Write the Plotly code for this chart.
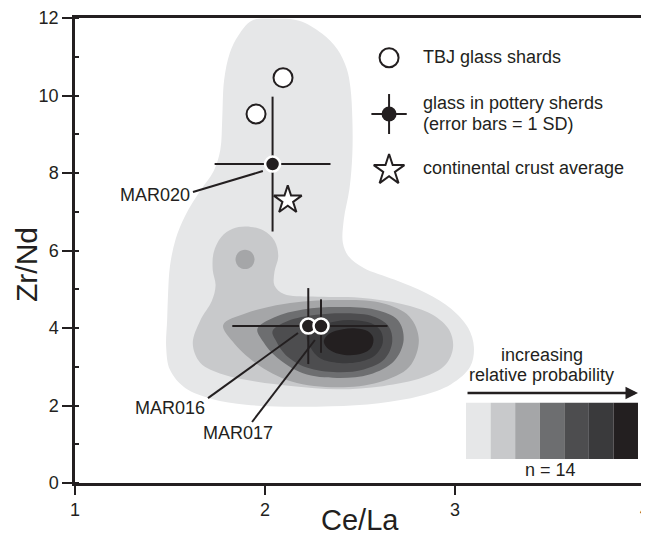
import plotly.graph_objects as go

# ---------------- data ----------------
# TBJ glass shards
tbj_x = [2.095, 1.953]
tbj_y = [10.46, 9.52]

# glass in pottery sherds (mean +/- 1 SD)
sherd_names = ["MAR020", "MAR016", "MAR017"]
sherd_x = [2.04, 2.228, 2.295]
sherd_y = [8.23, 4.05, 4.05]
sherd_xerr = [0.305, 0.40, 0.35]
sherd_yerr = [1.74, 0.98, 0.69]

# continental crust average
crust_x = [2.12]
crust_y = [7.30]

# sherd label positions (text centre) and leader-line ends
label_x = [1.42, 1.50, 1.858]
label_y = [7.43, 1.935, 1.29]
leader_x0 = [1.621, 1.70, 1.932]
leader_y0 = [7.51, 2.19, 1.574]
leader_x1 = [1.989, 2.174, 2.263]
leader_y1 = [8.05, 3.87, 3.69]

# probability-density contour outlines (n = 14), lightest to darkest
level_colors = ["#e6e7e8", "#c8c9cb", "#a5a6a8", "#6d6e70", "#4d4d4f", "#3a3a3c", "#231f20"]

lvl1_x = [2.05, 2.18, 2.30, 2.38, 2.43, 2.45, 2.46, 2.46, 2.445, 2.415, 2.41, 2.44, 2.52, 2.68,
          2.85, 2.98, 3.07, 3.10, 3.08, 2.98, 2.82, 2.60, 2.35, 2.10, 1.90, 1.72, 1.58, 1.50,
          1.48, 1.485, 1.49, 1.50, 1.53, 1.58, 1.66, 1.73, 1.765, 1.775, 1.785, 1.815, 1.86, 1.93, 2.05]
lvl1_y = [11.98, 11.93, 11.6, 11.2, 10.7, 10.2, 9.4, 8.5, 7.6, 6.8, 6.2, 5.85, 5.55, 5.25,
          4.9, 4.5, 4.0, 3.5, 3.0, 2.55, 2.25, 2.06, 1.98, 1.97, 2.02, 2.17, 2.45, 2.92,
          3.5, 4.2, 4.9, 5.6, 6.3, 6.9, 7.55, 8.05, 8.6, 9.4, 10.4, 11.1, 11.55, 11.93, 11.98]

lvl2_x = [1.90, 1.99, 2.05, 2.07, 2.05, 2.05, 2.10, 2.25, 2.50, 2.72, 2.88, 2.97, 2.99, 2.95,
          2.83, 2.62, 2.38, 2.15, 1.95, 1.78, 1.66, 1.62, 1.66, 1.72, 1.74, 1.725, 1.73, 1.77, 1.83, 1.90]
lvl2_y = [6.62, 6.52, 6.25, 5.85, 5.45, 5.10, 4.88, 4.81, 4.78, 4.62, 4.35, 3.95, 3.5, 3.05,
          2.72, 2.50, 2.42, 2.50, 2.62, 2.80, 3.10, 3.60, 4.20, 4.70, 5.10, 5.50, 5.95, 6.35, 6.56, 6.62]

lvl3a_x = [1.895, 1.93, 1.945, 1.93, 1.895, 1.86, 1.845, 1.86, 1.895]
lvl3a_y = [6.02, 5.95, 5.77, 5.59, 5.52, 5.59, 5.77, 5.95, 6.02]
lvl3_x = [1.78, 1.90, 2.10, 2.38, 2.62, 2.76, 2.81, 2.76, 2.60, 2.38, 2.14, 1.95, 1.83, 1.78]
lvl3_y = [4.08, 4.38, 4.62, 4.72, 4.64, 4.30, 3.70, 3.00, 2.60, 2.47, 2.62, 3.10, 3.65, 4.08]

lvl4_x = [1.96, 2.05, 2.20, 2.40, 2.58, 2.70, 2.73, 2.68, 2.55, 2.38, 2.20, 2.06, 1.99, 1.96]
lvl4_y = [3.98, 4.28, 4.48, 4.54, 4.47, 4.20, 3.70, 3.15, 2.80, 2.71, 2.83, 3.25, 3.65, 3.98]

lvl5_x = [2.04, 2.12, 2.27, 2.43, 2.57, 2.65, 2.67, 2.63, 2.52, 2.38, 2.22, 2.11, 2.06, 2.04]
lvl5_y = [3.92, 4.18, 4.34, 4.38, 4.30, 4.05, 3.65, 3.20, 2.93, 2.86, 2.98, 3.30, 3.65, 3.92]

lvl6_x = [2.22, 2.27, 2.37, 2.47, 2.56, 2.61, 2.62, 2.58, 2.49, 2.39, 2.29, 2.24, 2.22]
lvl6_y = [3.80, 4.02, 4.17, 4.20, 4.12, 3.92, 3.62, 3.30, 3.12, 3.10, 3.22, 3.50, 3.80]

lvl7_x = [2.31, 2.34, 2.41, 2.48, 2.54, 2.57, 2.56, 2.51, 2.43, 2.36, 2.32, 2.31]
lvl7_y = [3.68, 3.86, 3.97, 3.99, 3.92, 3.75, 3.50, 3.34, 3.30, 3.38, 3.53, 3.68]

x_ticks = [1, 2, 3, 4]
y_ticks = [0, 2, 4, 6, 8, 10, 12]
x_title = "Ce/La"
y_title = "Zr/Nd"
n_samples = 14

# ---------------- figure ----------------
FONT = "Liberation Sans, Arial, Helvetica, sans-serif"
INK = "#231f20"
PLOT_W = 570  # plot-area width in pixels (for arrow length)

fig = go.Figure()

outlines = [
    (lvl1_x, lvl1_y, 0),
    (lvl2_x, lvl2_y, 1),
    (lvl3a_x, lvl3a_y, 2),
    (lvl3_x, lvl3_y, 2),
    (lvl4_x, lvl4_y, 3),
    (lvl5_x, lvl5_y, 4),
    (lvl6_x, lvl6_y, 5),
    (lvl7_x, lvl7_y, 6),
]
for xs, ys, k in outlines:
    fig.add_trace(go.Scatter(
        x=xs, y=ys, mode="lines", fill="toself",
        fillcolor=level_colors[k],
        line=dict(width=0, shape="spline", smoothing=1.0, color=level_colors[k]),
        hoverinfo="skip", showlegend=False))

# leader lines
for i in range(len(sherd_names)):
    fig.add_shape(type="line", xref="x", yref="y",
                  x0=leader_x0[i], y0=leader_y0[i], x1=leader_x1[i], y1=leader_y1[i],
                  line=dict(color=INK, width=2))

# error bars
fig.add_trace(go.Scatter(
    x=sherd_x, y=sherd_y, mode="markers",
    marker=dict(size=1, opacity=0),
    error_x=dict(type="data", array=sherd_xerr, color=INK, thickness=2, width=0),
    error_y=dict(type="data", array=sherd_yerr, color=INK, thickness=2, width=0),
    hoverinfo="skip", showlegend=False))

# sherd dots
fig.add_trace(go.Scatter(
    x=sherd_x, y=sherd_y, mode="markers",
    marker=dict(size=15, color=INK, line=dict(color="white", width=2.5)),
    text=sherd_names, showlegend=False))

# TBJ circles
fig.add_trace(go.Scatter(
    x=tbj_x, y=tbj_y, mode="markers",
    marker=dict(size=19, color="white", line=dict(color=INK, width=2)),
    showlegend=False))

# crust star
fig.add_trace(go.Scatter(
    x=crust_x, y=crust_y, mode="markers",
    marker=dict(symbol="star", size=21, color="white", line=dict(color=INK, width=2)),
    showlegend=False))

# sherd labels
for i, name in enumerate(sherd_names):
    fig.add_annotation(x=label_x[i], y=label_y[i], xref="x", yref="y",
                       text=name, showarrow=False, xanchor="center", yanchor="middle",
                       font=dict(family=FONT, size=18, color=INK))

# ---------------- custom legend (overlay axes 0..1) ----------------
leg_sym_x = 0.551
leg_text_x = 0.607
fig.add_trace(go.Scatter(
    x=[leg_sym_x], y=[0.9146], xaxis="x2", yaxis="y2", mode="markers",
    marker=dict(size=19, color="white", line=dict(color=INK, width=2)),
    hoverinfo="skip", showlegend=False))
fig.add_trace(go.Scatter(
    x=[leg_sym_x], y=[0.7935], xaxis="x2", yaxis="y2", mode="markers",
    marker=dict(size=1, opacity=0),
    error_x=dict(type="data", array=[0.031], color=INK, thickness=2, width=0),
    error_y=dict(type="data", array=[0.043], color=INK, thickness=2, width=0),
    hoverinfo="skip", showlegend=False))
fig.add_trace(go.Scatter(
    x=[leg_sym_x], y=[0.7935], xaxis="x2", yaxis="y2", mode="markers",
    marker=dict(size=15, color=INK, line=dict(color="white", width=0)),
    hoverinfo="skip", showlegend=False))
fig.add_trace(go.Scatter(
    x=[leg_sym_x], y=[0.673], xaxis="x2", yaxis="y2", mode="markers",
    marker=dict(symbol="star", size=23, color="white", line=dict(color=INK, width=2)),
    hoverinfo="skip", showlegend=False))

legend_texts = [("TBJ glass shards", 0.916), ("glass in pottery sherds", 0.818),
                ("(error bars = 1 SD)", 0.773), ("continental crust average", 0.677)]
for t, yy in legend_texts:
    fig.add_annotation(x=leg_text_x, y=yy, xref="paper", yref="paper", text=t,
                       showarrow=False, xanchor="left", yanchor="middle",
                       font=dict(family=FONT, size=18, color=INK))

# ---------------- probability scale ----------------
cell_x0 = 0.686
cell_w = 0.0431
for k, c in enumerate(level_colors):
    fig.add_shape(type="rect", xref="paper", yref="paper",
                  x0=cell_x0 + k * cell_w, x1=cell_x0 + (k + 1) * cell_w,
                  y0=0.0516, y1=0.1727, fillcolor=c, line=dict(width=0), layer="above")
fig.add_annotation(x=cell_x0 + 7 * cell_w, y=0.1935, xref="paper", yref="paper",
                   ax=-(7 * cell_w * PLOT_W), ay=0, text="", showarrow=True,
                   arrowhead=2, arrowsize=1, arrowwidth=2.5, arrowcolor=INK)
scale_texts = [("increasing", 0.819, 0.275), ("relative probability", 0.819, 0.232),
               (f"n = {n_samples}", 0.835, 0.028)]
for t, xx, yy in scale_texts:
    fig.add_annotation(x=xx, y=yy, xref="paper", yref="paper", text=t,
                       showarrow=False, xanchor="center", yanchor="middle",
                       font=dict(family=FONT, size=18, color=INK))

# axis titles
fig.add_annotation(x=0.5, y=-0.0796, xref="paper", yref="paper", text=x_title,
                   showarrow=False, xanchor="center", yanchor="middle",
                   font=dict(family=FONT, size=29, color=INK))
fig.add_annotation(x=-0.085, y=0.47, xref="paper", yref="paper", text=y_title,
                   showarrow=False, textangle=-90, xanchor="center", yanchor="middle",
                   font=dict(family=FONT, size=30, color=INK))

# the page body adds an 8 px offset, so the figure is 8 px smaller on each axis
fig.update_layout(
    width=641, height=530,
    margin=dict(l=67, r=4, t=10, b=55, autoexpand=False),
    paper_bgcolor="white", plot_bgcolor="white",
    font=dict(family=FONT, size=18, color=INK),
    showlegend=False,
    xaxis=dict(range=[1, 4.0005], tickvals=x_ticks, ticks="outside", ticklen=9, tickwidth=2,
               tickcolor=INK, showline=True, linewidth=2.5, linecolor=INK, mirror=True,
               showgrid=False, zeroline=False, automargin=False, ticklabeloverflow="allow",
               tickfont=dict(family=FONT, size=18, color=INK)),
    yaxis=dict(range=[0, 12], tickvals=y_ticks, ticks="outside", ticklen=10, tickwidth=2,
               tickcolor=INK, showline=True, linewidth=2.5, linecolor=INK, mirror=True,
               showgrid=False, zeroline=False, automargin=False, ticklabeloverflow="allow",
               tickfont=dict(family=FONT, size=18, color=INK),
               minor=dict(dtick=1, ticks="inside", ticklen=4, tickwidth=1.5, tickcolor=INK)),
    xaxis2=dict(overlaying="x", range=[0, 1], visible=False, automargin=False),
    yaxis2=dict(overlaying="y", range=[0, 1], visible=False, automargin=False),
)

fig.write_html("out.html", default_width="641px", default_height="530px",
               post_script="document.documentElement.style.overflow='hidden';"
                           "document.body.style.overflow='hidden';")
